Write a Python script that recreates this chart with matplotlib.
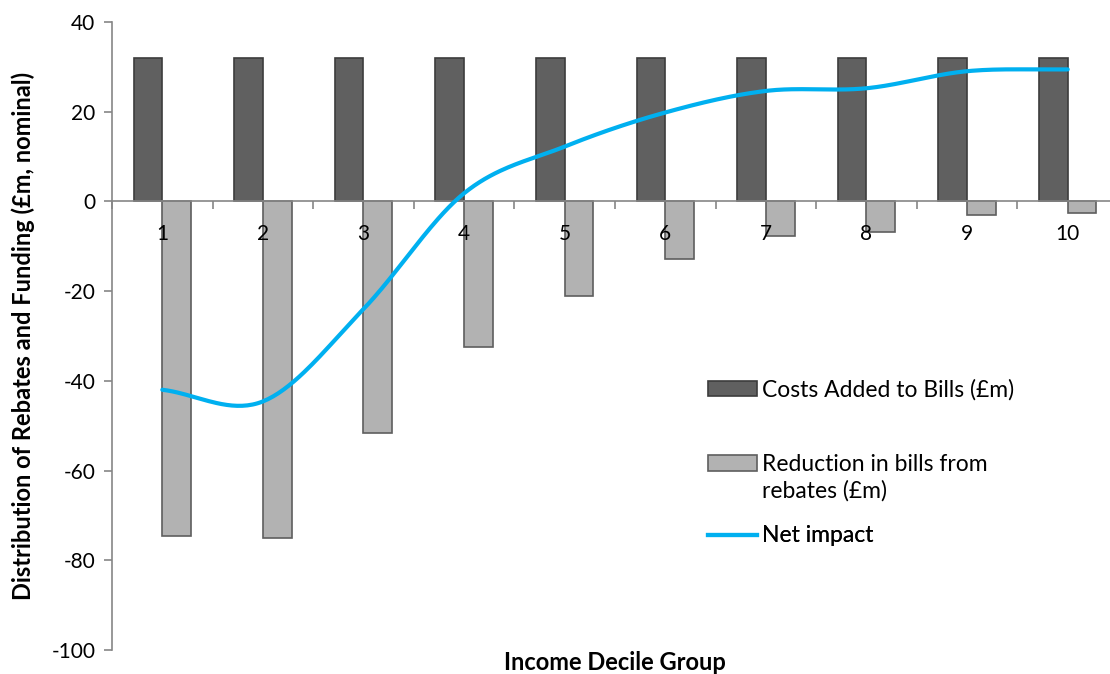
import numpy as np
import matplotlib.pyplot as plt
from matplotlib.lines import Line2D
from matplotlib.patches import Patch, Rectangle
from matplotlib.legend_handler import HandlerPatch

plt.rcParams['font.family'] = ['Lato', 'DejaVu Sans']
plt.rcParams['axes.unicode_minus'] = False

# income decile groups and the three series (£m, nominal)
deciles = [1, 2, 3, 4, 5, 6, 7, 8, 9, 10]
costs_added = [32, 32, 32, 32, 32, 32, 32, 32, 32, 32]
rebate_reduction = [-74.5, -75.0, -51.6, -32.5, -21.1, -12.9, -7.8, -6.9, -3.1, -2.5]
net_impact = [-42.0, -44.6, -24.0, 1.8, 12.2, 19.8, 24.6, 25.2, 29.0, 29.4]

DARK = '#606060'
DARK_EDGE = '#3c3c3c'
LIGHT = '#b2b2b2'
LIGHT_EDGE = '#5e5e5e'
BLUE = '#00b0f0'
AXIS = '#868686'


def smooth_curve(x, y, steps=40):
    # Catmull-Rom style curve through every point, like a spreadsheet "smoothed line"
    x = np.asarray(x, float)
    y = np.asarray(y, float)
    n = len(x)
    mx = np.zeros(n)
    my = np.zeros(n)
    for i in range(n):
        a = max(i - 1, 0)
        b = min(i + 1, n - 1)
        mx[i] = (x[b] - x[a]) / (b - a)
        my[i] = (y[b] - y[a]) / (b - a)
    xs, ys = [], []
    t = np.linspace(0, 1, steps)
    h00 = 2 * t**3 - 3 * t**2 + 1
    h10 = t**3 - 2 * t**2 + t
    h01 = -2 * t**3 + 3 * t**2
    h11 = t**3 - t**2
    for i in range(n - 1):
        xs.extend(h00 * x[i] + h10 * mx[i] + h01 * x[i + 1] + h11 * mx[i + 1])
        ys.extend(h00 * y[i] + h10 * my[i] + h01 * y[i + 1] + h11 * my[i + 1])
    return np.array(xs), np.array(ys)


fig = plt.figure(figsize=(11.1, 6.74), dpi=100)
ax = fig.add_axes([0.1009, 0.0356, 0.9063, 0.932])

x = np.array(deciles)
w = 1 / 3.5
ax.bar(x - w / 2, costs_added, width=w, color=DARK, edgecolor=DARK_EDGE,
       linewidth=1.2, zorder=2)
ax.bar(x + w / 2, rebate_reduction, width=w, color=LIGHT, edgecolor=LIGHT_EDGE,
       linewidth=1.2, zorder=2)

sx, sy = smooth_curve(deciles, net_impact)
ax.plot(sx, sy, color=BLUE, linewidth=3, solid_capstyle='round', zorder=4)

ax.set_xlim(0.5, 10.5)
ax.set_ylim(-100, 40)
ax.set_yticks(np.arange(-100, 41, 20))

# category axis sits on zero, tick marks between groups, labels under each group
ax.spines['bottom'].set_position(('data', 0))
ax.spines['bottom'].set_color(AXIS)
ax.spines['bottom'].set_linewidth(1.2)
ax.spines['bottom'].set_zorder(3)
ax.spines['left'].set_color(AXIS)
ax.spines['left'].set_linewidth(1.2)
ax.spines['top'].set_visible(False)
ax.spines['right'].set_visible(False)
ax.xaxis.set_zorder(3.5)

ax.set_xticks(np.arange(0.5, 10.6, 1))
ax.set_xticklabels([])
ax.set_xticks(x, minor=True)
ax.set_xticklabels([str(d) for d in deciles], minor=True)
ax.tick_params(axis='x', which='major', direction='out', length=6, color=AXIS, width=1.2)
ax.tick_params(axis='x', which='minor', length=0, pad=16, labelsize=15)
ax.tick_params(axis='y', direction='out', length=6, color=AXIS, width=1.2,
               labelsize=15, pad=6)

ax.set_ylabel('Distribution of Rebates and Funding (£m, nominal)', fontsize=17,
              fontweight='bold', labelpad=12)
fig.text(615 / 1110, 0.0, 'Income Decile Group', fontsize=17,
         fontweight='bold', ha='center', va='bottom')


def raised_patch(legend, orig_handle, xdescent, ydescent, width, height, fontsize):
    # lift the swatch so it lines up with the first line of a two-line label
    return Rectangle((-xdescent, -ydescent + 0.67 * fontsize), width, height)


# one legend per entry so each sits at its own height
entries = [
    (Patch(facecolor=DARK, edgecolor=DARK_EDGE, linewidth=1.2),
     'Costs Added to Bills (£m)', 0.414, None),
    (Patch(facecolor=LIGHT, edgecolor=LIGHT_EDGE, linewidth=1.2),
     'Reduction in bills from\nrebates (£m)', 0.274,
     {Patch: HandlerPatch(patch_func=raised_patch)}),
    (Line2D([0], [0], color=BLUE, linewidth=3),
     'Net impact', 0.1815, None),
]
for handle, label, ypos, hmap in entries:
    leg = ax.legend([handle], [label], loc='center left', bbox_to_anchor=(0.5924, ypos),
                    frameon=False, fontsize=16.5, borderpad=0, borderaxespad=0,
                    handlelength=2.14, handleheight=0.67, handletextpad=0.22,
                    handler_map=hmap)
    for t in leg.get_texts():
        t.set_linespacing(1.25)
    ax.add_artist(leg)

fig.savefig('out.png', dpi=100)
